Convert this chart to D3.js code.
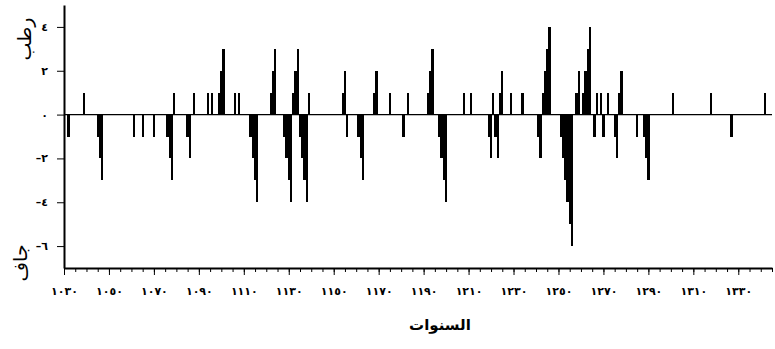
<!DOCTYPE html>
<html>
<head>
<meta charset="utf-8">
<script src="https://cdn.jsdelivr.net/npm/d3@7"></script>
<style>
  body { margin: 0; background: #fff; }
  svg { display: block; }
  .tick text { font-family: "DejaVu Sans", sans-serif; font-weight: bold; }
</style>
</head>
<body>
<div id="chart"></div>
<script>
// years that have a non-zero index, and the index value for each
const years = [
  1032, 1039, 1045, 1046, 1047, 1061, 1065, 1070, 1076, 1077, 1078, 1079,
  1085, 1086, 1088, 1094, 1096, 1099, 1100, 1101, 1106, 1108,
  1113, 1114, 1115, 1116, 1122, 1123, 1124, 1128, 1129, 1130, 1131,
  1132, 1133, 1134, 1135, 1136, 1137, 1138, 1139,
  1154, 1155, 1156, 1161, 1162, 1163, 1168, 1169, 1175, 1181, 1183,
  1192, 1193, 1194, 1197, 1198, 1199, 1200, 1208, 1211,
  1219, 1220, 1221, 1222, 1223, 1224, 1225, 1229, 1234,
  1241, 1242, 1243, 1244, 1245, 1246,
  1251, 1252, 1253, 1254, 1255, 1256, 1258, 1259,
  1261, 1262, 1263, 1264, 1266, 1267, 1269, 1270, 1272,
  1275, 1276, 1277, 1278, 1285, 1288, 1289, 1290,
  1301, 1318, 1327, 1342
]
const values = [
  -1, 1, -1, -2, -3, -1, -1, -1, -1, -2, -3, 1,
  -1, -2, 1, 1, 1, 1, 2, 3, 1, 1,
  -1, -2, -3, -4, 1, 2, 3, -1, -2, -3, -4,
  1, 2, 3, -1, -2, -3, -4, 1,
  1, 2, -1, -1, -2, -3, 1, 2, 1, -1, 1,
  1, 2, 3, -1, -2, -3, -4, 1, 1,
  -1, -2, 1, -1, -2, 1, 2, 1, 1,
  -1, -2, 1, 2, 3, 4,
  -1, -2, -3, -4, -5, -6, 1, 2,
  1, 2, 3, 4, -1, 1, 1, -1, 1,
  -1, -2, 1, 2, -1, -1, -2, -3,
  1, 1, -1, 1
]

const yTicks = [4, 2, 0, -2, -4, -6]
const yTickLabels = ["\u0664", "\u0662", "\u0660", "\u2013\u0662", "\u2013\u0664", "\u2013\u0666"]

const xTickYears = d3.range(1030, 1331, 20)
const xTickLabels = [
  "١٠٣٠", "١٠٥٠", "١٠٧٠", "١٠٩٠", "١١١٠", "١١٣٠", "١١٥٠", "١١٧٠",
  "١١٩٠", "١٢١٠", "١٢٣٠", "١٢٥٠", "١٢٧٠", "١٢٩٠", "١٣١٠", "١٣٣٠"
]

const xTitle = "السنوات"
const wetLabel = "رطب"
const dryLabel = "جاف"

const width = 775, height = 349

const svg = d3.select("#chart").append("svg")
  .attr("width", width)
  .attr("height", height)

const x = d3.scaleLinear().domain([1030, 1345]).range([64, 772])
const y = d3.scaleLinear().domain([-7, 5]).range([268, 5])
const barW = x(1031) - x(1030)

// bars
svg.append("g")
  .attr("shape-rendering", "crispEdges")
  .selectAll("rect")
  .data(years.map((yr, i) => ({ year: yr, value: values[i] })))
  .join("rect")
    .attr("x", d => x(d.year) - barW / 2)
    .attr("width", barW)
    .attr("y", d => y(Math.max(0, d.value)))
    .attr("height", d => Math.abs(y(d.value) - y(0)))
    .attr("fill", "#000")

// zero line
svg.append("line")
  .attr("x1", x(1030)).attr("x2", x(1345))
  .attr("y1", y(0)).attr("y2", y(0))
  .attr("stroke", "#000")
  .attr("stroke-width", 1.2)

// x axis: minor ticks every 5 years, labelled ticks every 20
svg.append("g")
  .attr("transform", `translate(0,${y(-7)})`)
  .call(d3.axisBottom(x)
    .tickValues(d3.range(1030, 1346, 5))
    .tickSize(4)
    .tickSizeOuter(0)
    .tickFormat(""))
  .call(g => g.select(".domain").attr("stroke-width", 2))

svg.append("g")
  .attr("transform", `translate(0,${y(-7)})`)
  .call(d3.axisBottom(x)
    .tickValues(xTickYears)
    .tickSize(7)
    .tickSizeOuter(0)
    .tickPadding(12)
    .tickFormat((d, i) => xTickLabels[i]))
  .call(g => g.select(".domain").remove())
  .call(g => g.selectAll("text").attr("font-size", 11).attr("fill", "#000"))

// y axis
svg.append("g")
  .attr("transform", `translate(${x(1030)},0)`)
  .call(d3.axisLeft(y)
    .tickValues(yTicks)
    .tickSize(7)
    .tickSizeOuter(0)
    .tickPadding(9)
    .tickFormat((d, i) => yTickLabels[i]))
  .call(g => g.select(".domain").attr("stroke-width", 2))
  .call(g => g.selectAll("text").attr("font-size", 11).attr("fill", "#000").attr("direction", "ltr"))

// titles
svg.append("text")
  .attr("x", 440).attr("y", 330)
  .attr("text-anchor", "middle")
  .attr("font-family", "DejaVu Sans, sans-serif")
  .attr("font-weight", "bold")
  .attr("font-size", 15)
  .text(xTitle)

svg.append("text")
  .attr("transform", "translate(31,39) rotate(-90)")
  .attr("text-anchor", "middle")
  .attr("font-family", "DejaVu Sans, sans-serif")
  .attr("font-size", 19)
  .text(wetLabel)

svg.append("text")
  .attr("transform", "translate(27,263) rotate(-90)")
  .attr("text-anchor", "middle")
  .attr("font-family", "DejaVu Sans, sans-serif")
  .attr("font-size", 19)
  .text(dryLabel)
</script>
</body>
</html>
